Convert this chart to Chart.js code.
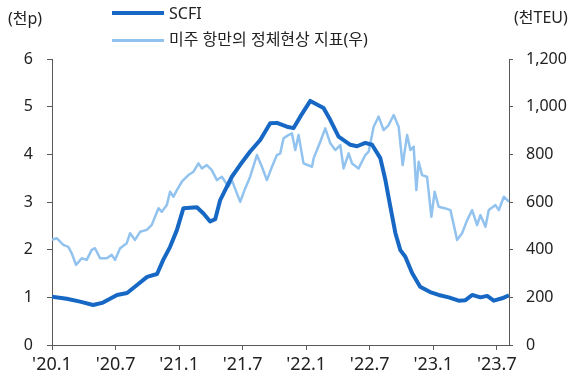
<!DOCTYPE html>
<html>
<head>
<meta charset="utf-8">
<script src="https://cdn.jsdelivr.net/npm/chart.js@4.4.0/dist/chart.umd.min.js"></script>
<style>
  body { margin: 0; background: #fff; }
  #wrap { position: relative; width: 582px; height: 379px; font-family: "Noto Sans", "Noto Sans CJK KR", sans-serif; color: #222; }
  canvas { position: absolute; left: 0; top: 0; }
  .lbl { position: absolute; font-size: 16px; line-height: 20px; white-space: nowrap; }
  .swatch { position: absolute; height: 0; }
</style>
</head>
<body>
<div id="wrap">
  <canvas id="grafico" width="582" height="379"></canvas>
  <div class="lbl" style="left:8px;top:8px;">(천p)</div>
  <div class="lbl" style="left:514px;top:7px;">(천TEU)</div>
  <div class="swatch" style="left:112px;top:11px;width:52px;border-top:4px solid #1668c4;"></div>
  <div class="lbl" style="left:169px;top:3px;">SCFI</div>
  <div class="swatch" style="left:112px;top:39px;width:52px;border-top:3px solid #92c3ef;"></div>
  <div class="lbl" style="left:169px;top:29px;">미주 항만의 정체현상 지표(우)</div>
</div>
<script>
// x = months since 2020.1
const xTickLabels = ["'20.1", "'20.7", "'21.1", "'21.7", "'22.1", "'22.7", "'23.1", "'23.7"];

const scfiMonth = [0.0, 1.39, 2.65, 3.88, 4.82, 6.14, 7.09, 8.03, 8.98, 9.92, 10.49, 11.15, 11.79, 12.41,
  13.68, 14.30, 14.93, 15.41, 15.88, 16.35, 16.98, 17.77, 18.71, 19.66, 20.60, 21.24, 22.18, 22.81,
  23.44, 24.39, 25.64, 26.28, 27.06, 28.17, 28.80, 29.58, 30.22, 31.00, 31.48, 31.95, 32.42, 32.89,
  33.36, 34.00, 34.76, 35.70, 36.51, 37.46, 38.40, 39.04, 39.67, 40.45, 41.09, 41.71, 42.50, 43.15];
const scfiValue = [1.01, 0.97, 0.91, 0.84, 0.89, 1.05, 1.09, 1.26, 1.43, 1.49, 1.78, 2.06, 2.41, 2.87,
  2.89, 2.76, 2.59, 2.64, 3.04, 3.25, 3.53, 3.78, 4.06, 4.30, 4.65, 4.66, 4.58, 4.55,
  4.79, 5.12, 4.97, 4.72, 4.37, 4.20, 4.17, 4.24, 4.20, 3.92, 3.46, 2.90, 2.35, 1.99,
  1.85, 1.51, 1.22, 1.11, 1.05, 1.00, 0.93, 0.94, 1.05, 1.00, 1.03, 0.93, 0.98, 1.04];

const congMonth = [0.0, 0.44, 1.07, 1.54, 1.86, 2.27, 2.81, 3.28, 3.75, 4.06, 4.54, 5.17, 5.64, 5.95,
  6.43, 7.06, 7.37, 7.84, 8.32, 8.95, 9.42, 10.05, 10.37, 10.84, 11.15, 11.47, 11.79, 12.26, 12.88,
  13.36, 13.83, 14.15, 14.62, 15.09, 15.57, 16.04, 16.66, 16.98, 17.46, 17.77, 18.24, 18.71, 19.35,
  19.82, 20.29, 20.77, 21.24, 21.55, 21.86, 22.33, 22.65, 22.97, 23.28, 23.75, 24.55, 24.70, 25.33,
  25.80, 26.28, 26.75, 27.22, 27.53, 28.01, 28.33, 28.95, 29.58, 29.90, 30.37, 30.84, 31.31, 31.79,
  32.26, 32.73, 33.11, 33.53, 33.84, 34.15, 34.40, 34.62, 34.94, 35.41, 35.82, 36.13, 36.51, 37.15,
  37.62, 38.25, 38.72, 39.20, 39.67, 40.14, 40.45, 40.93, 41.24, 41.87, 42.19, 42.66, 43.15];
const congValue = [441, 448, 420, 412, 385, 336, 364, 357, 399, 406, 364, 364, 378, 357,
  406, 427, 469, 441, 475, 483, 504, 574, 559, 587, 643, 622, 650, 685, 713,
  727, 762, 741, 755, 734, 692, 706, 664, 692, 636, 601, 657, 706, 797,
  748, 692, 748, 797, 804, 867, 881, 888, 818, 881, 762, 748, 783, 853,
  909, 846, 818, 839, 741, 804, 762, 741, 797, 811, 916, 958, 902, 923,
  965, 916, 755, 881, 818, 832, 650, 769, 713, 706, 538, 643, 580, 573,
  566, 441, 469, 524, 566, 503, 545, 496, 566, 587, 566, 622, 601];

const fonte = "'Noto Sans', 'Noto Sans CJK KR', sans-serif";
const corEixo = '#595959';

const ctx = document.getElementById('grafico').getContext('2d');
const myChart = new Chart(ctx, {
    type: 'line',
    data: {
        datasets: [{
            label: 'SCFI',
            data: scfiMonth.map((m, i) => ({ x: m, y: scfiValue[i] })),
            yAxisID: 'y',
            borderColor: '#1668c4',
            borderWidth: 4,
            pointRadius: 0,
            tension: 0,
            borderJoinStyle: 'round',
            fill: false
        }, {
            label: '미주 항만의 정체현상 지표(우)',
            data: congMonth.map((m, i) => ({ x: m, y: congValue[i] })),
            yAxisID: 'y2',
            borderColor: '#92c3ef',
            borderWidth: 2.5,
            pointRadius: 0,
            tension: 0,
            borderJoinStyle: 'round',
            fill: false
        }]
    },
    options: {
        responsive: false,
        animation: false,
        events: [],
        layout: { padding: { top: 59, bottom: 0, left: 0, right: 0 } },
        plugins: { legend: { display: false }, tooltip: { enabled: false } },
        scales: {
            x: {
                type: 'linear',
                min: 0,
                max: 43.15,
                afterFit: (s) => { s.height = 34; },
                afterBuildTicks: (s) => { s.ticks = xTickLabels.map((t, i) => ({ value: i * 6 })); },
                ticks: {
                    autoSkip: false,
                    maxRotation: 0,
                    padding: 4,
                    color: '#222',
                    font: { family: fonte, size: 18 },
                    callback: (v, i) => xTickLabels[i]
                },
                grid: { drawOnChartArea: false, drawTicks: true, tickLength: 5, color: corEixo },
                border: { color: corEixo, width: 1 }
            },
            y: {
                position: 'left',
                min: 0,
                max: 6,
                afterFit: (s) => { s.width = 52; },
                ticks: { stepSize: 1, padding: 14, color: '#222', font: { family: fonte, size: 16 } },
                grid: { drawOnChartArea: false, drawTicks: true, tickLength: 5, color: corEixo },
                border: { color: corEixo, width: 1 }
            },
            y2: {
                position: 'right',
                min: 0,
                max: 1200,
                afterFit: (s) => { s.width = 73; },
                ticks: {
                    stepSize: 200,
                    padding: 13,
                    color: '#222',
                    font: { family: fonte, size: 16 },
                    callback: (v) => v.toLocaleString('en-US')
                },
                grid: { drawOnChartArea: false, drawTicks: true, tickLength: 4, color: corEixo },
                border: { color: corEixo, width: 1 }
            }
        }
    }
});
</script>
</body>
</html>
